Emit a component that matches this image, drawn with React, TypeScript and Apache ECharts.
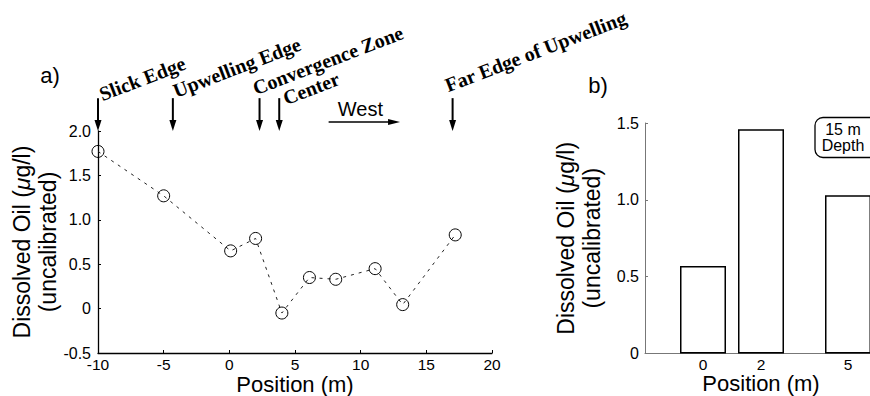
import React, { useEffect, useRef } from "react";
import * as echarts from "echarts";

// ---- Panel a data ----
const positionsA = [-10, -5, 0.1, 2, 4, 6.1, 8.1, 11.1, 13.2, 17.2];
const oilA = [1.77, 1.27, 0.65, 0.79, -0.05, 0.35, 0.33, 0.45, 0.045, 0.83];
const xTicksA = [-10, -5, 0, 5, 10, 15, 20];
const yTicksA = [-0.5, 0, 0.5, 1.0, 1.5, 2.0];

// annotations (data coords)
const annotationNames = ["Slick Edge", "Upwelling Edge", "Convergence Zone", "Center", "Far Edge of Upwelling"];
const annotationX = [-10, -4.3, 2.3, 3.8, 17.0];
const arrowTopY = 2.37;
const arrowTipY = 2.0;
const westStart = [7.56, 2.1];
const westEnd = [13.0, 2.1];

// ---- Panel b data ----
const positionsB = [0, 2, 5];
const oilB = [0.57, 1.46, 1.03];
const yTicksB = [0, 0.5, 1.0, 1.5];

// layout / styling (not data)
const labelOffsets = [
  [5.5, 6],
  [4.5, 2.7],
  [-2.5, 0],
  [8, 10],
  [-3.2, -3],
];
const SANS = '"Liberation Sans", Arial, sans-serif';
const SERIF = '"Liberation Serif", "Times New Roman", serif';
const fmt = (v: number) => (v === 0 ? "0" : v.toFixed(1));

export default function App() {
  const ref = useRef<HTMLDivElement>(null);

  useEffect(() => {
    if (!ref.current) return;
    const chart = echarts.init(ref.current, undefined, { renderer: "svg" });

    const nameRich = {
      n: { fontSize: 23, fontFamily: SANS, color: "#000", lineHeight: 26 },
      i: { fontSize: 23, fontFamily: SANS, color: "#000", fontStyle: "italic", lineHeight: 26 },
    };
    const yName = "{n|Dissolved Oil (}{i|μ}{n|g/l)}\n{n|(uncalibrated)}";
    const xNameStyle = { fontSize: 22, lineHeight: 22, fontFamily: SANS, color: "#000" };

    const option: any = {
      animation: false,
      backgroundColor: "#fff",
      grid: [
        { left: 98, top: 131, width: 394, height: 222, outerBoundsMode: "none", containLabel: false },
        { left: 645, top: 123, width: 232, height: 230.5, outerBoundsMode: "none", containLabel: false },
      ],
      xAxis: [
        {
          gridIndex: 0,
          type: "value",
          min: xTicksA[0],
          max: xTicksA[xTicksA.length - 1],
          interval: 5,
          name: "Position (m)",
          nameLocation: "middle",
          nameGap: 20,
          nameMoveOverlap: false,
          nameTextStyle: xNameStyle,
          axisLine: { show: true, onZero: false, lineStyle: { color: "#000", width: 1.3 } },
          axisTick: { show: true, inside: true, length: 3, lineStyle: { color: "#000" } },
          axisLabel: { fontSize: 15.5, lineHeight: 15, fontFamily: SANS, color: "#000", margin: 4 },
          splitLine: { show: false },
        },
        {
          gridIndex: 1,
          type: "value",
          min: -2,
          max: 6,
          interval: 1,
          name: "Position (m)",
          nameLocation: "middle",
          nameGap: 19,
          nameMoveOverlap: false,
          nameTextStyle: xNameStyle,
          axisLine: { show: true, onZero: false, lineStyle: { color: "#777", width: 1 } },
          axisTick: { show: false },
          axisLabel: {
            fontSize: 15.5,
            lineHeight: 15,
            fontFamily: SANS,
            color: "#000",
            margin: 3,
            formatter: (v: number) => (positionsB.includes(v) ? String(v) : ""),
          },
          splitLine: { show: false },
        },
      ],
      yAxis: [
        {
          gridIndex: 0,
          type: "value",
          min: yTicksA[0],
          max: yTicksA[yTicksA.length - 1],
          interval: 0.5,
          name: yName,
          nameLocation: "middle",
          nameRotate: 90,
          nameGap: 37,
          nameMoveOverlap: false,
          nameTextStyle: { rich: nameRich },
          axisLine: { show: true, onZero: false, lineStyle: { color: "#000", width: 1.3 } },
          axisTick: { show: true, inside: true, length: 3, lineStyle: { color: "#000" } },
          axisLabel: { fontSize: 16, fontFamily: SANS, color: "#000", margin: 7, formatter: fmt },
          splitLine: { show: false },
        },
        {
          gridIndex: 1,
          type: "value",
          min: yTicksB[0],
          max: yTicksB[yTicksB.length - 1],
          interval: 0.5,
          name: yName,
          nameLocation: "middle",
          nameRotate: 90,
          nameGap: 40,
          nameMoveOverlap: false,
          nameTextStyle: { rich: nameRich },
          axisLine: { show: true, onZero: false, lineStyle: { color: "#777", width: 1 } },
          axisTick: { show: true, inside: true, length: 3, lineStyle: { color: "#777" } },
          axisLabel: { fontSize: 16, fontFamily: SANS, color: "#000", margin: 6, formatter: fmt },
          splitLine: { show: false },
        },
      ],
      series: [
        {
          type: "line",
          xAxisIndex: 0,
          yAxisIndex: 0,
          data: positionsA.map((x, i) => [x, oilA[i]]),
          symbol: "circle",
          symbolSize: 12,
          lineStyle: { type: [3, 5], width: 1, color: "#222" },
          itemStyle: { color: "rgba(0,0,0,0)", borderColor: "#000", borderWidth: 1 },
          clip: false,
          z: 3,
        },
        {
          type: "bar",
          xAxisIndex: 1,
          yAxisIndex: 1,
          data: positionsB.map((x, i) => [x, oilB[i]]),
          barWidth: 46,
          itemStyle: { color: "#fff", borderColor: "#000", borderWidth: 1.5 },
          z: 3,
        },
      ],
    };
    chart.setOption(option);

    // Annotations positioned through the axes' scales
    const toPx = (p: number[]) => chart.convertToPixel({ gridIndex: 0 }, p) as number[];
    const graphics: any[] = [];
    const rot = (21 * Math.PI) / 180;
    annotationX.forEach((x, i) => {
      const top = toPx([x, arrowTopY]);
      const tip = toPx([x, arrowTipY]);
      graphics.push({
        type: "line",
        shape: { x1: top[0], y1: top[1], x2: tip[0], y2: tip[1] - 8 },
        style: { stroke: "#000", lineWidth: 2 },
        z: 10,
      });
      graphics.push({
        type: "polygon",
        shape: { points: [[tip[0] - 3.5, tip[1] - 11], [tip[0] + 3.5, tip[1] - 11], [tip[0], tip[1]]] },
        style: { fill: "#000" },
        z: 10,
      });
      graphics.push({
        type: "text",
        x: top[0] + labelOffsets[i][0],
        y: top[1] + labelOffsets[i][1],
        rotation: rot,
        style: {
          text: annotationNames[i],
          font: `bold 20px ${SERIF}`,
          fill: "#000",
          align: "left",
          verticalAlign: "bottom",
          textAlign: "left",
          textVerticalAlign: "bottom",
        },
        z: 10,
      });
    });
    const ws = toPx(westStart);
    const we = toPx(westEnd);
    graphics.push({
      type: "line",
      shape: { x1: ws[0], y1: ws[1], x2: we[0] - 8, y2: we[1] },
      style: { stroke: "#000", lineWidth: 1.5 },
      z: 10,
    });
    graphics.push({
      type: "polygon",
      shape: { points: [[we[0] - 12, we[1] - 3], [we[0] - 12, we[1] + 3], [we[0], we[1]]] },
      style: { fill: "#000" },
      z: 10,
    });
    graphics.push({
      type: "text",
      x: (ws[0] + we[0]) / 2 - 4,
      y: ws[1] - 13,
      style: {
        text: "West",
        font: `20px ${SANS}`,
        fill: "#000",
        align: "center",
        verticalAlign: "middle",
        textAlign: "center",
        textVerticalAlign: "middle",
      },
      z: 10,
    });
    // panel labels
    graphics.push({
      type: "text",
      x: 50,
      y: 75,
      style: { text: "a)", font: `22px ${SANS}`, fill: "#000", align: "center", verticalAlign: "middle", textAlign: "center", textVerticalAlign: "middle" },
    });
    graphics.push({
      type: "text",
      x: 598,
      y: 85,
      style: { text: "b)", font: `22px ${SANS}`, fill: "#000", align: "center", verticalAlign: "middle", textAlign: "center", textVerticalAlign: "middle" },
    });
    // depth box
    graphics.push({
      type: "rect",
      shape: { x: 815, y: 117.5, width: 70, height: 40, r: 8 },
      style: { fill: "#fff", stroke: "#000", lineWidth: 1.3 },
      z: 12,
    });
    graphics.push({
      type: "text",
      x: 843,
      y: 137.5,
      style: {
        text: "15 m\nDepth",
        font: `16px ${SANS}`,
        lineHeight: 15.5,
        fill: "#000",
        align: "center",
        verticalAlign: "middle",
        textAlign: "center",
        textVerticalAlign: "middle",
      },
      z: 13,
    });
    chart.setOption({ graphic: graphics });

    return () => chart.dispose();
  }, []);

  return (
    <div
      style={{
        position: "fixed",
        left: 0,
        top: 0,
        width: 870,
        height: 396,
        overflow: "hidden",
        background: "#fff",
      }}
    >
      <div ref={ref} style={{ width: 900, height: 396 }} />
    </div>
  );
}
